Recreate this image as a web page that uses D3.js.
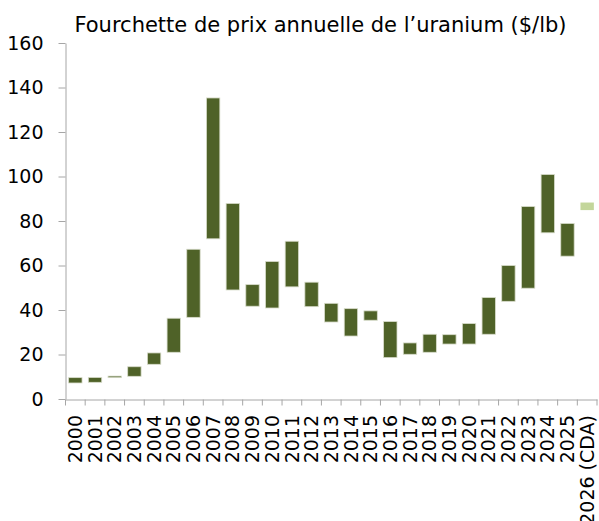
<!DOCTYPE html>
<html>
<head>
<meta charset="utf-8">
<script src="https://cdn.jsdelivr.net/npm/d3@7"></script>
<style>
  html, body { margin: 0; padding: 0; background: #fff; }
  svg { display: block; }
  text { font-family: "DejaVu Sans", Verdana, sans-serif; fill: #000; }
</style>
</head>
<body>
<svg id="chart" width="599" height="521"></svg>
<script>
const categories = ["2000","2001","2002","2003","2004","2005","2006","2007","2008","2009","2010","2011","2012","2013","2014","2015","2016","2017","2018","2019","2020","2021","2022","2023","2024","2025","2026 (CDA)"];
const lowValues  = [7.2, 7.5, 9.6, 10.2, 15.6, 21.0, 36.7, 72.0, 49.0, 41.7, 40.9, 50.4, 41.5, 34.6, 28.3, 35.4, 18.6, 20.1, 21.0, 24.7, 24.7, 29.1, 43.9, 49.8, 74.7, 64.2, 84.9];
const highValues = [9.6, 9.7, 10.3, 14.5, 20.7, 36.3, 67.3, 135.3, 87.9, 51.4, 61.8, 70.9, 52.5, 43.0, 40.6, 39.6, 34.8, 25.2, 29.1, 28.9, 33.9, 45.6, 60.0, 86.5, 100.9, 78.9, 88.3];
const forecast   = [false,false,false,false,false,false,false,false,false,false,false,false,false,false,false,false,false,false,false,false,false,false,false,false,false,false,true];
const yTicks = [0, 20, 40, 60, 80, 100, 120, 140, 160];
const title = "Fourchette de prix annuelle de l\u2019uranium ($/lb)";

const svg = d3.select("#chart");
const x = d3.scaleBand().domain(categories).range([65.5, 597]).paddingInner(0.32).paddingOuter(0.16);
const y = d3.scaleLinear().domain([0, 160]).range([399, 43]);

const data = categories.map((c, i) => ({ c, lo: lowValues[i], hi: highValues[i], f: forecast[i] }));

// bars
svg.append("g").selectAll("rect").data(data).join("rect")
  .attr("x", d => x(d.c))
  .attr("width", x.bandwidth())
  .attr("y", d => y(d.hi))
  .attr("height", d => Math.max(1, y(d.lo) - y(d.hi)))
  .attr("fill", d => d.f ? "#c3d69b" : "#4f6228")
  .attr("stroke", d => d.f ? "none" : "#d8dccb")
  .attr("stroke-width", 0.8);

// y axis
const yAxis = d3.axisLeft(y).tickValues(yTicks).tickSize(7).tickPadding(15).tickSizeOuter(0);
const gy = svg.append("g").attr("transform", "translate(65.5,0)").call(yAxis);
gy.select(".domain").attr("stroke", "#a6a6a6");
gy.selectAll(".tick line").attr("stroke", "#a6a6a6");
gy.selectAll(".tick text").attr("font-size", 19).attr("font-family", "DejaVu Sans, Verdana, sans-serif").attr("fill", "#000");

// x axis
const xAxis = d3.axisBottom(x).tickSizeOuter(0).tickSize(0);
const gx = svg.append("g").attr("transform", "translate(0,399.5)").call(xAxis);
gx.select(".domain").attr("stroke", "#a6a6a6");
gx.selectAll(".tick text")
  .attr("font-size", 19).attr("font-family", "DejaVu Sans, Verdana, sans-serif").attr("fill", "#000")
  .attr("transform", "rotate(-90)")
  .attr("text-anchor", "end")
  .attr("x", -15.5).attr("y", 0).attr("dy", "0.35em");
// category boundary ticks
const step = x.step();
const bounds = categories.map((c, i) => x(c) - x.paddingInner() * step / 2).concat([x(categories[categories.length - 1]) + x.bandwidth() + x.paddingInner() * step / 2]);
gx.append("g").selectAll("line").data(bounds).join("line")
  .attr("x1", d => d).attr("x2", d => d).attr("y1", 0).attr("y2", 6)
  .attr("stroke", "#a6a6a6");

// title
svg.append("text").attr("x", 320.5).attr("y", 31.5).attr("text-anchor", "middle")
  .attr("font-size", 21).text(title);
</script>
</body>
</html>
